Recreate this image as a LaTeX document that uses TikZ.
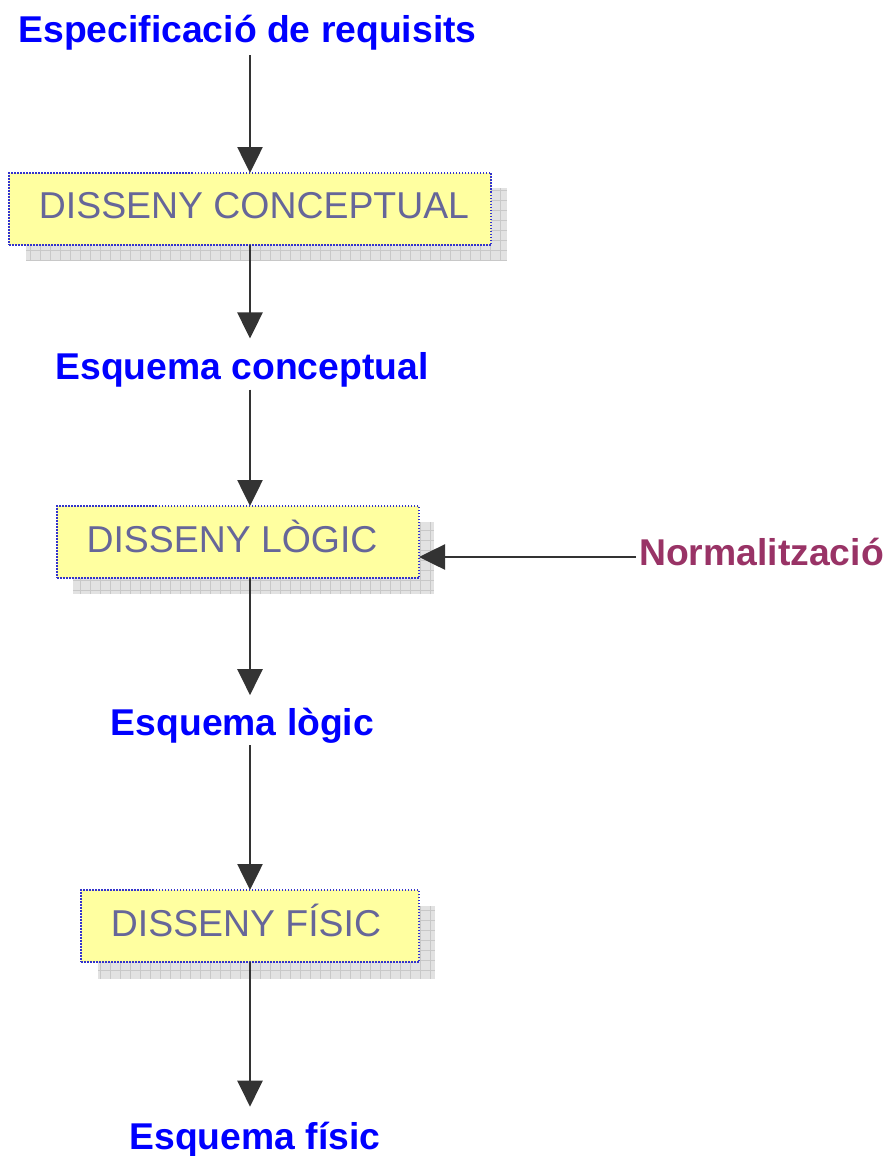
\documentclass[tikz,border=0pt]{standalone}
\usepackage{fontspec}
\setmainfont{Liberation Sans}
\usetikzlibrary{arrows.meta}
\definecolor{lblue}{RGB}{0,0,255}
\definecolor{boxtxt}{RGB}{102,102,153}
\definecolor{normc}{RGB}{153,51,102}
\definecolor{boxfill}{RGB}{255,255,160}
\definecolor{boxline}{RGB}{51,51,204}
\definecolor{arr}{RGB}{51,51,51}
\definecolor{shad}{RGB}{226,226,226}
\definecolor{shadgrid}{RGB}{200,200,200}
\begin{document}
\begin{tikzpicture}[x=1pt,y=-1pt,
  lbl/.style={font=\fontsize{37.3}{40}\selectfont\bfseries, text=lblue, inner sep=0pt, outer sep=0pt, anchor=base},
  boxlbl/.style={font=\fontsize{37.4}{40}\selectfont, text=boxtxt, inner sep=0pt, anchor=base},
  stepbox/.style={rectangle, fill=boxfill, draw=boxline, line width=1.8pt, dash pattern=on 1.5pt off 1.5pt, inner sep=0pt, outer sep=0pt},
  shadowgrid/.style={draw=shadgrid, line width=0.6pt},
  conn/.style={draw=arr, line width=2.6pt, -{Triangle[length=26pt,width=25pt]}}]
\useasboundingbox (0,0) rectangle (887,1156);
\coordinate (ax) at (250,0);
\coordinate (ny) at (0,557);
% shadows
\fill[shad] (26,188) rectangle (507,261);
\draw[shadowgrid, step=10pt] (26,188) grid (507,261);
\fill[shad] (73,522) rectangle (434,594);
\draw[shadowgrid, step=10pt] (73,522) grid (434,594);
\fill[shad] (98,906) rectangle (435,979);
\draw[shadowgrid, step=10pt] (98,906) grid (435,979);
% boxes
\node[stepbox, minimum width=482pt, minimum height=72pt] (b1) at (250,209) {};
\node[stepbox, minimum width=362pt, minimum height=72pt] (b2) at (238,542) {};
\node[stepbox, minimum width=338pt, minimum height=72pt] (b3) at (250,926) {};
\node[boxlbl] (t1) at (254,218) {DISSENY CONCEPTUAL};
\node[boxlbl] (t2) at (232,552) {DISSENY LÒGIC};
\node[boxlbl] (t3) at (246,936) {DISSENY FÍSIC};
% labels
\node[lbl] (spec) at (247.5,43) {Especificació de requisits};
\node[lbl] (ec) at (242,379) {Esquema conceptual};
\node[lbl] (el) at (242.5,735) {Esquema lògic};
\node[lbl] (ef) at (255,1149) {Esquema físic};
\node[lbl, text=normc] (norm) at (761.5,565) {Normalització};
% connectors
\draw[conn, shorten <=4.5pt] (spec.south -| ax) -- (b1.north -| ax);
\draw[conn, shorten >=13.5pt] (b1.south -| ax) -- (ec.north -| ax);
\draw[conn, shorten <=3pt] (ec.south -| ax) -- (b2.north -| ax);
\draw[conn, shorten >=12.5pt] (b2.south -| ax) -- (el.north -| ax);
\draw[conn, shorten <=2.5pt] (el.south -| ax) -- (b3.north -| ax);
\draw[conn, shorten >=15pt] (b3.south -| ax) -- (ef.north -| ax);
\draw[conn, shorten <=3pt] (norm.west |- ny) -- (b2.east |- ny);
\end{tikzpicture}
\end{document}
